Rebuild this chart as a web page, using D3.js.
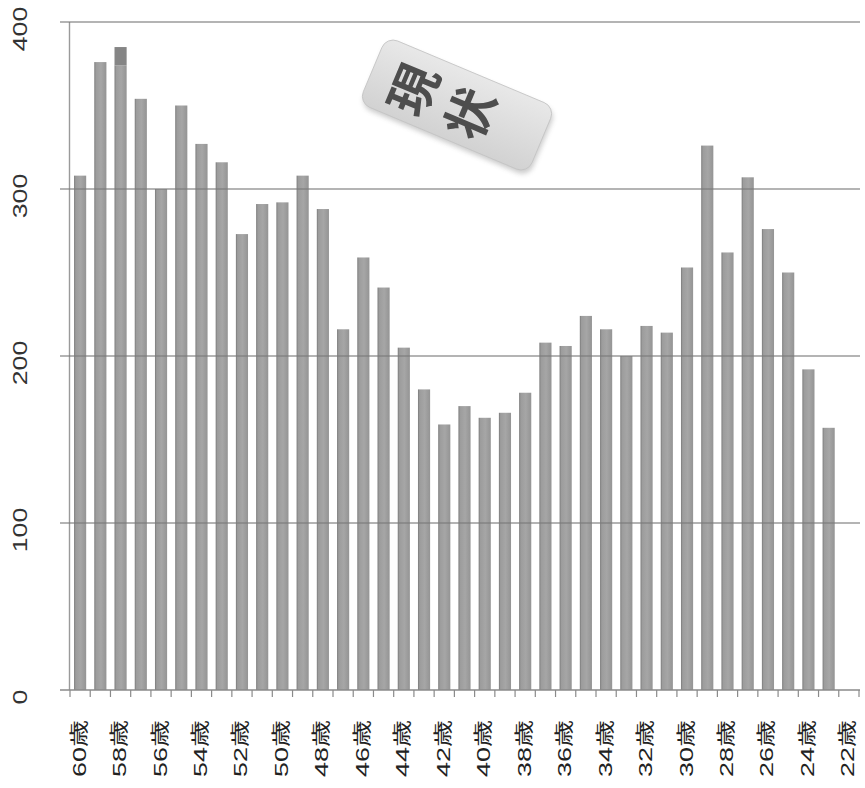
<!DOCTYPE html>
<html>
<head>
<meta charset="utf-8">
<script src="https://cdn.jsdelivr.net/npm/d3@7/dist/d3.min.js"></script>
<style>
  html, body { margin: 0; padding: 0; background: #fff; }
  svg { display: block; }
</style>
</head>
<body>
<svg id="chart" width="865" height="788"></svg>
<script>
// ---- data ----
const categories = ["60歳","59歳","58歳","57歳","56歳","55歳","54歳","53歳","52歳","51歳",
  "50歳","49歳","48歳","47歳","46歳","45歳","44歳","43歳","42歳","41歳",
  "40歳","39歳","38歳","37歳","36歳","35歳","34歳","33歳","32歳","31歳",
  "30歳","29歳","28歳","27歳","26歳","25歳","24歳","23歳","22歳"];
const values = [308, 376, 374, 354, 300, 350, 327, 316, 273, 291,
  292, 308, 288, 216, 259, 241, 205, 180, 159, 170,
  163, 166, 178, 208, 206, 224, 216, 200, 218, 214,
  253, 326, 262, 307, 276, 250, 192, 157, null];
// darker cap on top of one bar (as in the picture)
const capCategories = ["58歳"];
const capFrom = [374];
const capTo = [385];
const tickLabels = ["60歳","58歳","56歳","54歳","52歳","50歳","48歳","46歳","44歳","42歳",
  "40歳","38歳","36歳","34歳","32歳","30歳","28歳","26歳","24歳","22歳"];
const yTicks = [0, 100, 200, 300, 400];
const badgeText = "現状";

// ---- layout ----
const svg = d3.select("#chart");
const plotL = 70, plotR = 859, plotT = 22, plotB = 690;
const x = d3.scaleBand().domain(categories).range([plotL, plotR]).paddingInner(0.4).paddingOuter(0.2);
const y = d3.scaleLinear().domain([0, 400]).range([plotB, plotT]);
const step = x.step();

const defs = svg.append("defs");
const g1 = defs.append("linearGradient").attr("id", "barGrad").attr("x1", "0").attr("x2", "1").attr("y1", "0").attr("y2", "0");
g1.append("stop").attr("offset", "0%").attr("stop-color", "#7a7a7a");
g1.append("stop").attr("offset", "14%").attr("stop-color", "#9c9c9c");
g1.append("stop").attr("offset", "55%").attr("stop-color", "#a6a6a6");
g1.append("stop").attr("offset", "100%").attr("stop-color", "#949494");

const g2 = defs.append("linearGradient").attr("id", "badgeGrad").attr("x1", "0").attr("x2", "0").attr("y1", "0").attr("y2", "1");
g2.append("stop").attr("offset", "0%").attr("stop-color", "#e8e8e8");
g2.append("stop").attr("offset", "100%").attr("stop-color", "#d2d2d2");

const blur = defs.append("filter").attr("id", "shadow").attr("x", "-20%").attr("y", "-20%").attr("width", "140%").attr("height", "140%");
blur.append("feGaussianBlur").attr("stdDeviation", 2.5);

// y axis
svg.append("line").attr("x1", plotL - 0.5).attr("x2", plotL - 0.5).attr("y1", plotT).attr("y2", plotB)
  .attr("stroke", "#9a9a9a").attr("stroke-width", 1.4);

// bars
svg.append("g").selectAll("rect").data(categories.map((c, i) => ({c, v: values[i]})).filter(d => d.v != null)).join("rect")
  .attr("x", d => x(d.c))
  .attr("width", x.bandwidth())
  .attr("y", d => y(d.v))
  .attr("height", d => y(0) - y(d.v))
  .attr("fill", "url(#barGrad)");

// darker caps
svg.append("g").selectAll("rect").data(capCategories.map((c, i) => ({c, a: capFrom[i], b: capTo[i]}))).join("rect")
  .attr("x", d => x(d.c))
  .attr("width", x.bandwidth())
  .attr("y", d => y(d.b))
  .attr("height", d => y(d.a) - y(d.b))
  .attr("fill", "#858585");

// gridlines (drawn over bars, as in the picture)
svg.append("g").selectAll("line").data(yTicks.filter(d => d > 0)).join("line")
  .attr("x1", 60).attr("x2", 860)
  .attr("y1", d => y(d)).attr("y2", d => y(d))
  .attr("stroke", "#7a7a7a").attr("stroke-opacity", 0.75).attr("stroke-width", 1.4);

// x axis line and ticks
svg.append("line").attr("x1", 60).attr("x2", 860).attr("y1", plotB).attr("y2", plotB)
  .attr("stroke", "#8a8a8a").attr("stroke-width", 1.4);
const boundaries = categories.map(c => x(c) - step * 0.2).concat([x(categories[categories.length - 1]) + x.bandwidth() + step * 0.2]);
svg.append("g").selectAll("line").data(boundaries).join("line")
  .attr("x1", d => d).attr("x2", d => d)
  .attr("y1", plotB).attr("y2", plotB + 7)
  .attr("stroke", "#8a8a8a").attr("stroke-width", 1.2);

// y labels
svg.append("g").selectAll("text").data(yTicks).join("text")
  .attr("transform", d => `translate(27,${y(d) + 7}) rotate(-90) scale(1.37,1)`)
  .attr("text-anchor", "middle")
  .attr("font-family", "'Liberation Sans', Arial, sans-serif")
  .attr("font-size", 19.5)
  .attr("fill", "#333")
  .text(d => d);

// x labels
svg.append("g").selectAll("text").data(tickLabels).join("text")
  .attr("transform", d => `translate(${x(d) + x.bandwidth() / 2 + 5.5},720) rotate(-90) scale(1.42,1)`)
  .attr("text-anchor", "end")
  .attr("font-family", "'Liberation Sans', 'Noto Sans CJK JP', sans-serif")
  .attr("font-size", 19)
  .attr("fill", "#222")
  .text(d => d);

// badge
const badge = svg.append("g").attr("transform", "translate(457,105) rotate(22.8)");
badge.append("rect").attr("x", -89).attr("y", -33).attr("width", 183).attr("height", 72).attr("rx", 12)
  .attr("fill", "#8f8f8f").attr("opacity", 0.45).attr("filter", "url(#shadow)");
badge.append("rect").attr("x", -91.5).attr("y", -36).attr("width", 183).attr("height", 72).attr("rx", 12)
  .attr("fill", "url(#badgeGrad)").attr("stroke", "#c4c4c4").attr("stroke-width", 0.8);

svg.append("text")
  .attr("transform", "translate(447,104) rotate(-67.2)")
  .attr("text-anchor", "middle")
  .style("writing-mode", "vertical-rl")
  .attr("font-family", "'Noto Sans CJK JP', sans-serif")
  .attr("font-weight", "bold")
  .attr("font-size", 50)
  .attr("letter-spacing", 12)
  .attr("fill", "#4d4d4d")
  .text(badgeText);
</script>
</body>
</html>
